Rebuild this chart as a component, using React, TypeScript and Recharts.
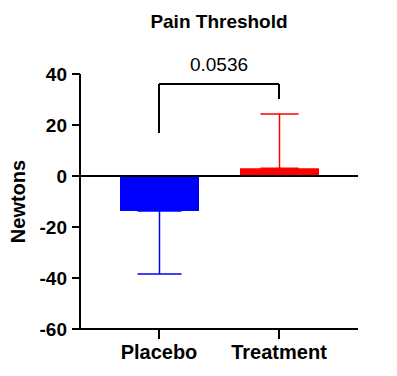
import React from 'react';
import {
  BarChart,
  Bar,
  XAxis,
  YAxis,
  Cell,
  ErrorBar,
  ReferenceLine,
} from 'recharts';

// groups and their mean change (Newtons)
const categories = ['Placebo', 'Treatment'];
const means = [-13.7, 3.0];
// one-sided SD bars: [below, above]
const placeboErr = [24.7, 0];
const treatmentErr = [0, 21.3];
const barColors = ['#0000ff', '#ff0000'];
const yTicks = [-60, -40, -20, 0, 20, 40];

// significance bracket
const pValueLabel = '0.0536';
const bracketTop = 36.1;
const bracketLeftEnd = 16.9;
const bracketRightEnd = 30.2;

const font = '"Liberation Sans", Arial, sans-serif';

const chartData = categories.map((name, i) => ({
  name,
  value: means[i],
  placeboErr: i === 0 ? placeboErr : undefined,
  treatmentErr: i === 1 ? treatmentErr : undefined,
}));

const YLabel = (props: any) => {
  const { viewBox } = props;
  const cy = viewBox.y + viewBox.height / 2;
  return (
    <text
      x={18}
      y={cy}
      transform={`rotate(-90, 18, ${cy})`}
      textAnchor="middle"
      dominantBaseline="central"
      fontFamily={font}
      fontWeight="bold"
      fontSize={20}
      fill="#000"
    >
      Newtons
    </text>
  );
};

export default function App() {
  return (
    <div
      style={{
        position: 'absolute',
        left: 0,
        top: 0,
        width: 397,
        height: 376,
        background: '#fff',
      }}
    >
      <div
        style={{
          position: 'absolute',
          left: 119,
          top: 12,
          width: 200,
          textAlign: 'center',
          fontFamily: font,
          fontWeight: 'bold',
          fontSize: 19,
          lineHeight: '20px',
          color: '#000',
        }}
      >
        Pain Threshold
      </div>
      <BarChart
        width={397}
        height={376}
        data={chartData}
        margin={{ top: 74, right: 39, left: 0, bottom: 0 }}
      >
        <XAxis
          dataKey="name"
          height={47}
          padding={{ left: 19, right: 19 }}
          axisLine={{ stroke: '#000', strokeWidth: 2 }}
          tickLine={{ stroke: '#000', strokeWidth: 2 }}
          tickSize={10}
          tickMargin={6}
          tick={{ fill: '#000', fontFamily: font, fontWeight: 'bold', fontSize: 20 }}
        />
        <YAxis
          width={80}
          domain={[-60, 40]}
          ticks={yTicks}
          interval={0}
          allowDataOverflow
          axisLine={{ stroke: '#000', strokeWidth: 2 }}
          tickLine={{ stroke: '#000', strokeWidth: 2 }}
          tickSize={8}
          tickMargin={5}
          tick={{ fill: '#000', fontFamily: font, fontWeight: 'bold', fontSize: 19 }}
          label={<YLabel />}
        />
        <ReferenceLine y={0} stroke="#000" strokeWidth={2} />
        <Bar dataKey="value" barSize={79} isAnimationActive={false}>
          {chartData.map((d, i) => (
            <Cell key={d.name} fill={barColors[i]} />
          ))}
          <ErrorBar
            dataKey="placeboErr"
            direction="y"
            width={22}
            stroke={barColors[0]}
            strokeWidth={1.5}
            isAnimationActive={false}
          />
          <ErrorBar
            dataKey="treatmentErr"
            direction="y"
            width={19}
            stroke={barColors[1]}
            strokeWidth={1.5}
            isAnimationActive={false}
          />
        </Bar>
        <ReferenceLine
          segment={[
            { x: categories[0], y: bracketTop },
            { x: categories[1], y: bracketTop },
          ]}
          stroke="#000"
          strokeWidth={2}
          label={{
            value: pValueLabel,
            position: 'top',
            offset: 13,
            fill: '#000',
            fontFamily: font,
            fontSize: 19,
          }}
        />
        <ReferenceLine
          segment={[
            { x: categories[0], y: bracketTop },
            { x: categories[0], y: bracketLeftEnd },
          ]}
          stroke="#000"
          strokeWidth={2}
        />
        <ReferenceLine
          segment={[
            { x: categories[1], y: bracketTop },
            { x: categories[1], y: bracketRightEnd },
          ]}
          stroke="#000"
          strokeWidth={2}
        />
      </BarChart>
    </div>
  );
}
